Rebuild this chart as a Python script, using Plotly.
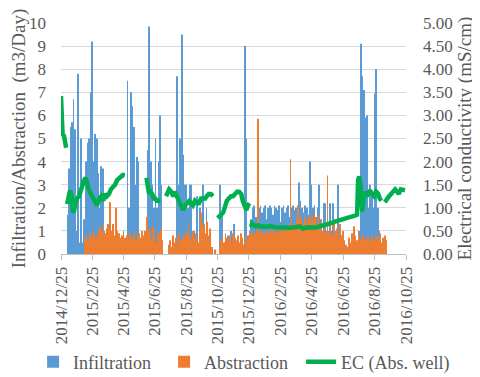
import pandas as pd
import plotly.graph_objects as go

# x grid for the daily bars (every 3 days)
bar_start = "2015-01-07"
bar_step_days = 3

infiltration = [
    1.7, 3.7, 5.5, 5.7, 6.7, 5.4, 1.0, 7.8, 0.5,
    5.0, 0.5, 1.5, 4.0, 4.8, 5.0, 7.0, 9.2, 4.0, 5.2, 5.0, 3.5, 2.0, 3.8, 3.7, 1.0,
    0, 0, 0, 0, 0, 0, 0, 0, 0, 0, 0, 0, 0, 0,
    7.5, 2.0, 7.0, 6.4, 5.5, 3.0, 4.2, 4.0, 0.5,
    0, 0, 0, 0,
    4.5, 9.85, 4.0, 3.0, 2.0, 5.0, 2.0, 4.0, 6.0, 3.0,
    0, 0, 0, 0, 0, 0, 0, 0, 0,
    7.7, 3.0, 5.0, 9.5, 4.3, 3.0, 3.0, 2.0,
    3.0, 3.0, 0, 1.0, 0, 2.5, 0, 2.0, 0, 3.0, 0, 2.0, 0, 0,
    0, 0, 0, 0, 0, 0,
    3.0,
    1.8, 0, 0.5, 0, 0.8, 0, 1.0, 0, 1.3, 0, 0.5, 0, 0.6, 0, 0.4,
    9.0, 5.0,
    0.8, 1.0, 1.5,
    2.0, 2.1, 1.6, 3.1, 2.0, 2.1, 1.8, 2.0, 2.1, 1.5,
    2.0, 2.1, 2.0, 1.7, 2.1, 2.0, 1.9, 2.1, 1.4, 2.0,
    2.1, 1.8, 2.0, 2.1, 1.6, 2.0, 2.1, 1.9, 2.0, 2.1,
    3.1, 2.3, 2.0, 1.8, 2.1, 2.0, 1.7, 4.0, 3.0, 2.0,
    2.1, 1.6, 2.0, 3.0,
    1.5, 1.0, 2.2, 2.2, 1.0, 0.8, 2.2, 1.0, 2.2, 0.8, 1.0, 3.0,
    0.5, 0, 0.8, 0, 0.3, 0, 0.5, 0, 0, 0.6, 0, 0.4, 0, 1.0,
    9.1, 7.7, 7.1, 5.9, 6.0, 2.0, 3.0, 2.5, 2.0, 6.95, 8.0, 2.0, 1.0,
    0, 0, 0, 0,
]

abstraction = [
    0, 0, 0, 0, 0, 0, 0, 0, 0, 0, 0,
    0.7, 0.8, 0.6, 0.9, 0.7, 1.0, 0.8, 0.7, 0.9, 1.1,
    1.2, 1.0, 1.3, 0.9, 1.1, 1.3, 2.25, 1.0, 1.3, 0.8,
    2.0, 1.0, 0.9, 0.7, 0.8, 1.0, 0.7, 0.8, 0.7, 0.9,
    0.7, 0.8, 1.0, 0.6, 0.8, 0.9, 0.7, 1.0, 0.8, 1.0,
    1.6, 0.9, 1.1, 0.6, 1.2, 0.8, 0.5, 1.0, 0.9, 1.1,
    0.6, 0, 0, 0,
    0.4, 0.6, 0.3, 0.8, 0.5, 0.7, 0.4, 0.9, 0.6, 0.8,
    0.7, 1.0, 0.9, 1.3, 0.8, 0.6, 1.0, 0.7, 0.9, 0.5,
    1.0, 1.8, 1.2, 1.3, 0.9, 1.4, 0.8, 1.1, 0.3, 0,
    0.2, 0, 0, 0.3,
    0.6, 0.8, 0.5, 0.9, 0.7, 0.6, 0.8, 0.5, 0.9, 0.7, 0.6, 0.8,
    0.5, 0.9, 0.7, 0.4, 0.8, 0.6,
    0.8, 0.9, 1.0, 0.8, 0.9, 1.0, 5.85, 0.9, 1.0, 0.8, 1.0, 0.9, 1.0,
    0.9, 1.0, 1.1, 0.9, 1.0, 1.2, 0.9, 1.0, 1.1, 1.0,
    1.1, 1.2, 1.0, 1.3, 4.1, 1.1, 1.2, 1.3, 1.5, 2.1,
    1.4, 1.6, 1.3, 1.7, 1.5, 1.2, 1.6, 1.4, 1.7, 1.5,
    1.6, 1.3, 1.7, 1.2, 1.5, 1.0, 1.3, 0.9, 3.4, 1.0,
    1.2, 0.8, 1.5, 0.9, 1.1, 0.7, 1.3, 0.8, 1.0, 0.6,
    0.4, 0.3, 0.7, 0.5, 0.9, 1.2, 0.8, 0.6, 1.0, 0.7,
    0.6, 0.8, 0.7, 0.6, 0.8, 0.5, 0.7, 0.8, 0.6, 0.7,
    0.8, 0.6, 0.9, 0.5, 0.7, 0.8, 0.6,
]

# EC series: days since 2014-12-25, value in mS/cm (None = gap)
ec_origin = "2014-12-25"
ec_day = [
    0, 1, 3, 6, 8, 10, 11,
    12, 14, 17, 18, 21, 23, 25, 28, 31, 35, 38, 41, 45, 48, 50, 54, 58, 62, 66, 70,
    74, 78, 82, 85, 89, 93, 97, 101, 105, 109, 113, 117, 120, 124, 140,
    166, 168, 171, 174, 177, 180, 183, 186, 190, 193, 198,
    204, 207, 210, 214, 218, 221, 225, 229, 233, 237, 241, 245, 249, 252, 256, 260,
    264, 268, 272, 276, 280, 283, 287, 291, 295, 300,
    304, 307, 311, 315, 318, 322, 326, 330, 334, 338, 342, 346, 350, 353, 357, 360,
    363, 366, 368,
    369, 371, 375, 379, 383, 386, 396, 406, 416, 425, 435, 445, 454, 464, 470, 474,
    484, 493, 503, 513, 522, 532, 542, 551, 561, 571, 575, 577, 579, 581, 583, 585,
    586, 588, 591, 594, 597, 600, 604, 608, 612, 616, 619, 622, 625,
    629, 633, 637, 641, 645, 649, 653, 656, 660, 664, 668,
]
ec_value = [
    3.42, 2.77, 2.6, 2.55, 2.4, 2.3, None,
    1.08, 1.25, 1.35, 1.37, 1.25, 0.93, 0.9, 1.1, 1.2, 1.25, 1.35, 1.5, 1.6, 1.65, 1.55, 1.4, 1.3, 1.2, 1.1, 1.05,
    1.2, 1.25, 1.15, 1.3, 1.25, 1.3, 1.4, 1.45, 1.5, 1.6, 1.65, 1.68, 1.71, 1.7, None,
    1.65, 1.55, 1.3, 1.35, 1.3, 1.2, 1.2, 1.15, 1.15, 1.15, None,
    1.25, 1.35, 1.4, 1.35, 1.25, 1.35, 1.25, 1.1, 1.0, 0.95, 1.05, 1.1, 1.15, 1.1, 1.05, 1.15,
    1.1, 1.1, 1.2, 1.2, 1.2, 1.25, 1.3, 1.3, 1.25, None,
    0.78, 0.8, 0.85, 0.9, 1.05, 1.15, 1.2, 1.25, 1.25, 1.3, 1.35, 1.35, 1.3, 1.15, 1.02, 0.95,
    1.05, 1.1, None,
    0.58, 0.66, 0.62, 0.6, 0.62, 0.6, 0.59, 0.6, 0.58, 0.57, 0.58, 0.57, 0.58, 0.6, 0.55, 0.57,
    0.58, 0.57, 0.6, 0.62, 0.66, 0.7, 0.74, 0.77, 0.8, 0.83, 0.85, 1.6, 1.68, 1.55, 1.2, 0.92,
    1.0, 1.25, 1.35, 1.25, 1.3, 1.38, 1.3, 1.25, 1.35, 1.3, 1.2, 1.15, None,
    1.12, 1.2, 1.25, 1.3, 1.35, 1.4, 1.35, 1.3, 1.4, 1.38, 1.38,
]

tick_dates = ["2014-12-25", "2015-02-25", "2015-04-25", "2015-06-25", "2015-08-25",
              "2015-10-25", "2015-12-25", "2016-02-25", "2016-04-25", "2016-06-25",
              "2016-08-25", "2016-10-25"]
tick_labels = ["2014/12/25", "2015/2/25", "2015/4/25", "2015/6/25", "2015/8/25",
               "2015/10/25", "2015/12/25", "2016/2/25", "2016/4/25", "2016/6/25",
               "2016/8/25", "2016/10/25"]

n = min(len(infiltration), len(abstraction))
bar_dates = pd.date_range(bar_start, periods=n, freq=f"{bar_step_days}D")
ec_dates = pd.to_datetime(ec_origin) + pd.to_timedelta(ec_day, unit="D")

FONT = "Liberation Serif"
TXT = "#595959"

fig = go.Figure()
fig.add_trace(go.Bar(x=bar_dates, y=infiltration[:n], name="Infiltration",
                     legendwidth=86,
                     marker=dict(color="#5B9BD5", line=dict(width=0))))
fig.add_trace(go.Bar(x=bar_dates, y=abstraction[:n], name="Abstraction",
                     legendwidth=92,
                     marker=dict(color="#ED7D31", line=dict(width=0))))
fig.add_trace(go.Scatter(x=ec_dates, y=ec_value, name="EC (Abs. well)", yaxis="y2",
                         mode="lines", connectgaps=False, legendwidth=112,
                         line=dict(color="#00B050", width=4.5)))

# the page body adds an 8px offset, so margins are shifted by 8px
fig.update_layout(
    width=480, height=377,
    margin=dict(l=53, r=82, t=15, b=131, autoexpand=False),
    paper_bgcolor="white", plot_bgcolor="white",
    barmode="group", bargap=0.1, bargroupgap=0,
    font=dict(family=FONT, size=17, color=TXT),
    showlegend=True,
    legend=dict(orientation="h", xref="paper", yref="paper",
                x=1.151, xanchor="right", y=-0.468, yanchor="middle",
                font=dict(family=FONT, size=18, color=TXT),
                tracegroupgap=0, itemwidth=30),
    xaxis=dict(type="date", range=["2014-12-25", "2016-10-25"], automargin=False,
               tickmode="array", tickvals=tick_dates, ticktext=tick_labels,
               tickangle=-90, tickfont=dict(size=17),
               showgrid=False, showline=True, linecolor="#BFBFBF", linewidth=1,
               ticks="outside", ticklen=5, tickcolor="#BFBFBF"),
    yaxis=dict(range=[0, 10], dtick=1, showgrid=True, gridcolor="#D9D9D9",
               zeroline=False, showline=False, tickfont=dict(size=17), automargin=False,
               ticklabelstandoff=14,
               title=dict(text="Infiltration/Abstraction  (m3/Day)",
                          font=dict(size=19, color=TXT), standoff=1)),
    yaxis2=dict(range=[0, 5], dtick=0.5, tickformat=".2f", overlaying="y", automargin=False,
                side="right", showgrid=False, zeroline=False, showline=False,
                tickfont=dict(size=17), ticklabelstandoff=16,
                title=dict(text="Electrical conductivity (mS/cm)",
                           font=dict(size=19, color=TXT), standoff=5)),
)

fig.write_html("out.html")
